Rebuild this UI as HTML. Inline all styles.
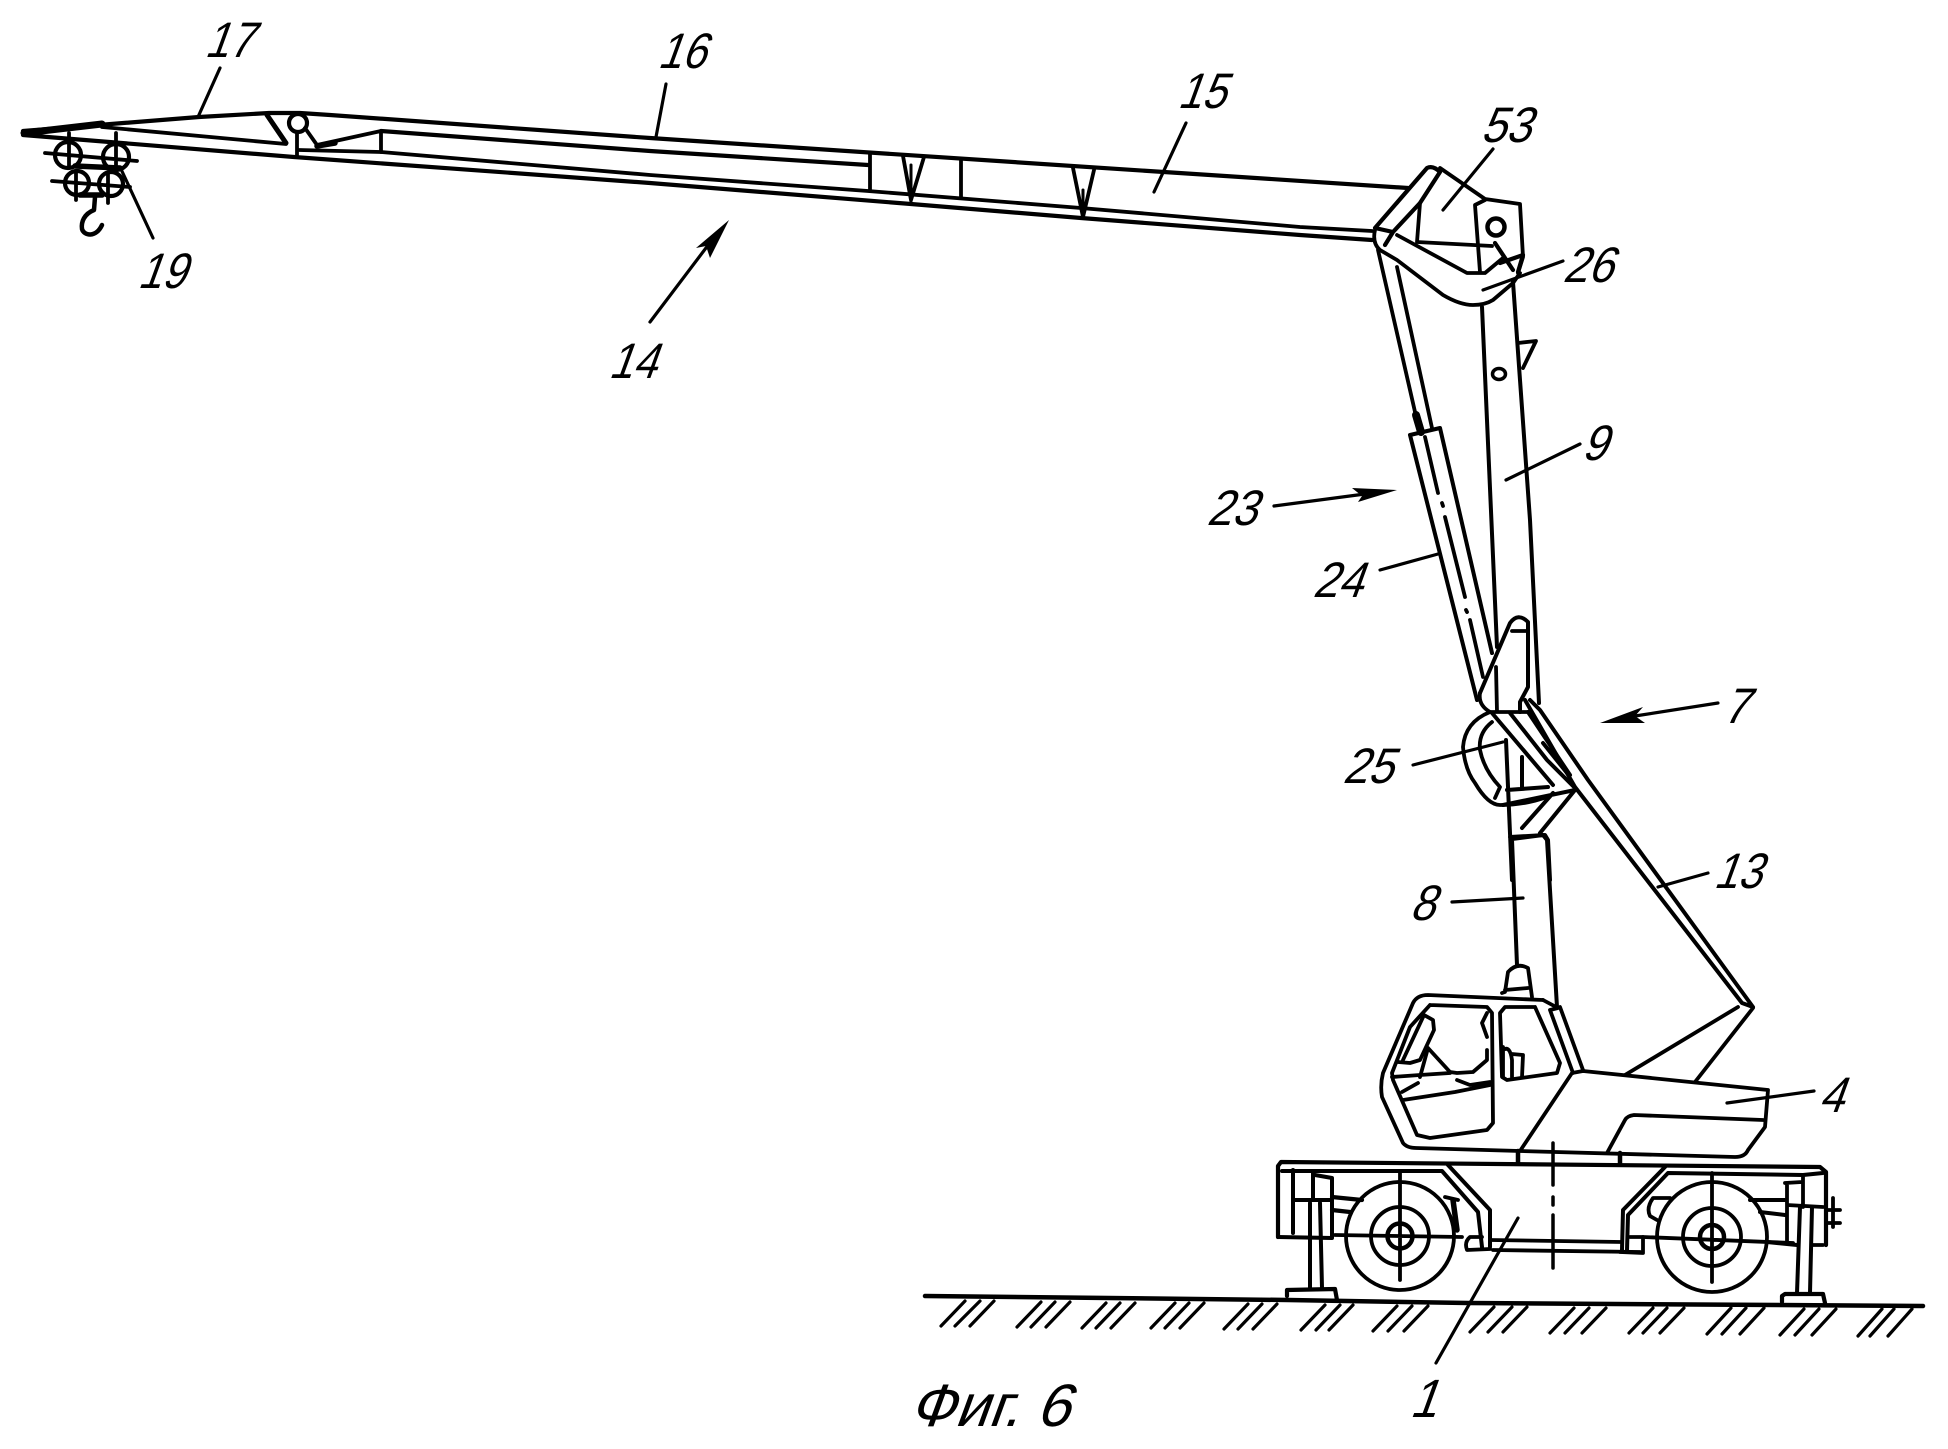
<!DOCTYPE html>
<html><head><meta charset="utf-8"><style>
html,body{margin:0;padding:0;background:#fff}
svg{display:block}
text{font-family:"Liberation Sans",sans-serif;fill:#000;font-size:50px}
</style></head><body>
<svg width="1948" height="1449" viewBox="0 0 1948 1449" xmlns="http://www.w3.org/2000/svg">
<g fill="none" stroke="#000" stroke-width="3.8" stroke-linecap="round" stroke-linejoin="round">
<!-- boom -->
<path d="M23 131L199 117L269 113L300 113L330 115L650 138L1164 172L1408 188" stroke-width="4.2"/>
<path d="M381 131L650 151L868 165" stroke-width="4.2"/>
<path d="M102 127L286 144M299 150L381 152L650 175L868 191L1081 208L1300 227L1372 231"/>
<path d="M23 135L294 157L650 183L911 204L1081 218L1300 235L1372 240" stroke-width="4.2"/>
<path d="M24 133L102 124" stroke-width="7"/>
<path d="M267 115L286 143" stroke-width="5"/>
<circle cx="298" cy="123" r="9" stroke-width="4.2"/>
<path d="M297 133V155M305 128L317 145M317 145L381 131V152"/>
<path d="M317 146L335 143" stroke-width="5.5"/>
<path d="M870 153V190M903 156L911 200L924 157M961 160V198M1073 168L1083 217L1094 170"/>
<path d="M911 165V202M1083 190V218" stroke-width="3"/>
<!-- hook block -->
<circle cx="68" cy="155" r="13" stroke-width="4.2"/>
<circle cx="116" cy="157" r="13" stroke-width="4.2"/>
<circle cx="77" cy="183" r="12" stroke-width="4.2"/>
<circle cx="111" cy="184" r="12" stroke-width="4.2"/>
<path d="M45 153L137 161M52 181L130 187M69 133V168M116 133V168M76 172V200M108 172V203"/>
<path d="M75 166L120 168M80 195L102 195" stroke-width="5.5"/>
<path d="M95 197L94 210C84 214 81 222 82 229C84 236 96 238 102 225" stroke-width="4.5"/>
<!-- head -->
<path d="M1393 232L1375 228L1427 168Q1433 165 1440 172L1420 203L1393 232L1385 245" stroke-width="4.2"/>
<path d="M1440 168L1485 199L1520 204L1523 257L1518 273"/>
<path d="M1485 200L1475 205L1480 272M1420 203L1417 242L1492 246"/>
<path d="M1375 230Q1372 243 1380 250L1397 260L1443 295Q1460 305 1473 305Q1485 305 1493 300L1513 283L1520 273"/>
<path d="M1397 235L1467 273L1485 273L1497 263L1503 258"/>
<circle cx="1496" cy="227" r="8.5" stroke-width="4.5"/>
<path d="M1495 243L1513 270M1500 263L1523 255L1518 272" stroke-width="4.2"/>
<!-- mast 9 -->
<path d="M1482 307L1497 647M1513 282L1530 520L1539 703" stroke-width="4"/>
<path d="M1518 343L1536 341L1523 368"/>
<ellipse cx="1499" cy="374" rx="6.5" ry="5.5" stroke-width="3.5"/>
<!-- cylinder -->
<path d="M1378 250L1418 425M1397 267L1432 428"/>
<path d="M1416 415L1421 432" stroke-width="8"/>
<path d="M1410 435L1440 428M1410 435L1477 700M1440 428L1492 653" stroke-width="4"/>
<path d="M1425 437L1438 493M1442 503L1443 506M1445 517L1465 597M1466 610L1467 612M1470 620L1483 677"/>
<!-- bracket -->
<path d="M1480 693L1510 623Q1518 612 1528 622L1528 687L1520 702L1520 712" stroke-width="4"/>
<path d="M1512 631H1527M1496 667L1497 712M1480 693Q1478 705 1490 712L1530 712"/>
<!-- stay 13 -->
<path d="M1530 700L1540 710L1588 780L1753 1007L1742 1003L1575 787L1525 700" stroke-width="4"/>
<path d="M1738 1007L1625 1075M1753 1008L1695 1082"/>
<!-- ring 25 -->
<path d="M1490 712Q1465 722 1463 747Q1465 770 1475 783Q1488 805 1500 805Q1525 805 1547 797"/>
<path d="M1492 722Q1478 733 1480 750Q1484 770 1500 787L1495 798"/>
<path d="M1492 713L1553 785M1510 713L1547 760L1577 790M1528 712L1570 775M1543 743L1567 773" stroke-width="4"/>
<path d="M1507 790L1548 787M1522 757V787M1506 740L1512 880M1510 837L1545 835L1548 840L1550 880" stroke-width="4"/>
<path d="M1522 828L1553 793M1540 833L1575 790M1503 805L1575 790" stroke-width="4"/>
<!-- column 8 -->
<path d="M1512 840L1517 965M1512 839L1543 835L1547 840L1557 1007" stroke-width="4"/>
<path d="M1502 993L1505 992L1508 972Q1517 962 1528 968L1532 997M1505 990L1528 988"/>
<!-- cab -->
<path d="M1543 1000L1428 995Q1417 995 1413 1003L1383 1073Q1380 1085 1382 1097L1403 1143Q1407 1148 1416 1148L1520 1151L1572 1073L1583 1071L1768 1090L1765 1127L1748 1150Q1745 1157 1735 1157L1520 1151"/>
<path d="M1560 1007L1583 1070M1550 1010L1573 1073M1543 1000L1558 1008L1550 1010"/>
<path d="M1535 1007L1560 1063L1557 1073L1507 1080L1502 1077L1500 1013L1505 1007H1535"/>
<path d="M1430 1005L1487 1007L1492 1013L1493 1123L1487 1130L1430 1138L1417 1135L1393 1080L1392 1073L1410 1027L1430 1005"/>
<path d="M1403 1060L1424 1015L1433 1020L1434 1030L1420 1060L1410 1063L1398 1062"/>
<path d="M1428 1048L1420 1077M1428 1048L1450 1072L1457 1073L1473 1072L1487 1060L1487 1050M1487 1013L1482 1023L1487 1037"/>
<path d="M1392 1077L1420 1075L1450 1073M1403 1100L1455 1092L1490 1085M1402 1092L1418 1083M1457 1080L1470 1085L1490 1082"/>
<path d="M1503 1047V1077M1503 1050Q1510 1045 1512 1060V1077M1512 1054L1523 1055L1522 1077"/>
<path d="M1607 1153L1625 1120Q1627 1116 1634 1115L1763 1120"/>
<path d="M1518 1151V1162M1620 1153V1163" stroke-width="4.5"/>
<path d="M1553 1143V1185M1553 1197V1205M1553 1215V1268" stroke-width="3.5"/>
<!-- chassis -->
<path d="M1278 1237V1166L1281 1162L1820 1167L1826 1172V1245" stroke-width="4.2"/>
<path d="M1282 1171H1442L1478 1212L1482 1247M1448 1165L1490 1210V1247" stroke-width="4"/>
<path d="M1278 1237L1332 1238V1178L1315 1175M1293 1170V1233M1313 1173V1200M1295 1200H1332" stroke-width="4"/>
<path d="M1310 1203L1310 1288M1320 1203L1322 1288" stroke-width="4"/>
<path d="M1287 1290L1335 1289L1337 1300M1287 1290V1296" stroke-width="4.2"/>
<path d="M1332 1197L1362 1200M1332 1210L1350 1212" stroke-width="4.2"/>
<circle cx="1400" cy="1236" r="54"/><circle cx="1400" cy="1236" r="29"/><circle cx="1400" cy="1236" r="12.5" stroke-width="4.5"/>
<path d="M1335 1235L1462 1237M1400 1172V1280M1445 1197L1458 1200"/>
<path d="M1453 1200L1457 1230" stroke-width="5.5"/>
<path d="M1482 1237H1470Q1464 1242 1467 1250L1490 1249M1490 1240L1622 1242M1493 1250L1640 1252"/>
<path d="M1622 1250L1623 1210L1665 1167M1627 1250L1628 1215L1668 1173L1803 1175L1823 1173" stroke-width="4"/>
<path d="M1630 1237H1643V1253L1620 1252"/>
<path d="M1670 1198L1653 1198Q1646 1208 1650 1216L1657 1220"/>
<circle cx="1712" cy="1237" r="55"/><circle cx="1712" cy="1237" r="29"/><circle cx="1712" cy="1237" r="12" stroke-width="4.5"/>
<path d="M1643 1237L1793 1243M1712 1173V1282"/>
<path d="M1787 1183V1243M1785 1183L1802 1182M1803 1177V1207M1787 1205L1823 1207M1823 1245H1812"/>
<path d="M1800 1207L1797 1293M1812 1207L1810 1293" stroke-width="4"/>
<path d="M1782 1302V1296L1785 1294H1823L1825 1303" stroke-width="4.2"/>
<path d="M1750 1200L1785 1200M1760 1212L1785 1215M1767 1242L1797 1245" stroke-width="4"/>
<path d="M1833 1198V1227M1827 1210H1840M1827 1223H1840"/>
<!-- ground -->
<path d="M925 1296L1288 1300L1468 1303L1923 1306" stroke-width="4.5"/>
<g stroke-width="3.2" transform="translate(0,3)">
<path d="M965 1298L941 1323M980 1298L955 1323M994 1298L970 1323"/>
<path d="M1041 1299L1017 1324M1055 1299L1031 1324M1070 1299L1046 1324"/>
<path d="M1106 1300L1082 1325M1120 1300L1096 1325M1135 1300L1111 1325"/>
<path d="M1175 1300L1151 1325M1189 1300L1165 1325M1204 1300L1180 1325"/>
<path d="M1248 1301L1224 1326M1262 1301L1238 1326M1277 1301L1253 1326"/>
<path d="M1325 1302L1301 1327M1340 1302L1316 1327M1353 1302L1329 1327"/>
<path d="M1397 1303L1373 1328M1412 1303L1388 1328M1428 1303L1404 1328"/>
<path d="M1494 1304L1470 1329M1512 1304L1488 1329M1527 1304L1503 1329"/>
<path d="M1574 1305L1550 1330M1589 1305L1565 1330M1606 1305L1582 1330"/>
<path d="M1653 1305L1629 1330M1667 1305L1643 1330M1684 1305L1660 1330"/>
<path d="M1731 1305L1707 1331M1746 1305L1722 1331M1764 1305L1740 1331"/>
<path d="M1804 1306L1780 1332M1819 1306L1795 1332M1836 1306L1812 1332"/>
<path d="M1882 1306L1858 1333M1894 1306L1870 1333M1912 1306L1888 1333"/>
</g>
<!-- leaders -->
<g stroke-width="3.2">
<path d="M220 68L198 117M120 167L153 238M666 84L656 137M1186 123L1154 192"/>
<path d="M650 322L712 240M1493 149L1443 210M1563 261L1483 290M1580 444L1506 480"/>
<path d="M1274 506L1365 494M1380 570L1438 554M1413 765L1503 742M1718 703L1635 716"/>
<path d="M1708 873L1658 887M1452 902L1523 898M1814 1091L1727 1103M1518 1218L1436 1363"/>
</g>
</g>
<!-- arrowheads -->
<polygon points="729,220 696,248 706,246 710,258"/>
<polygon points="1397,490 1352,488 1362,496 1358,502"/>
<polygon points="1600,723 1643,707 1635,716 1645,723"/>
<!-- labels -->
<text transform="translate(204,57) skewX(-20) scale(.86,1)">17</text>
<text transform="translate(137,288) skewX(-20) scale(.86,1)">19</text>
<text transform="translate(657,68) skewX(-20) scale(.86,1)">16</text>
<text transform="translate(1177,108) skewX(-20) scale(.86,1)">15</text>
<text transform="translate(608,378) skewX(-20) scale(.86,1)">14</text>
<text transform="translate(1480,142) skewX(-20) scale(.9,1)">53</text>
<text transform="translate(1562,282) skewX(-20) scale(.9,1)">26</text>
<text transform="translate(1581,460) skewX(-20) scale(.9,1)">9</text>
<text transform="translate(1206,525) skewX(-20) scale(.9,1)">23</text>
<text transform="translate(1312,597) skewX(-20) scale(.9,1)">24</text>
<text transform="translate(1342,783) skewX(-20) scale(.9,1)">25</text>
<text transform="translate(1722,723) skewX(-20) scale(.9,1)">7</text>
<text transform="translate(1713,888) skewX(-20) scale(.86,1)">13</text>
<text transform="translate(1409,920) skewX(-20) scale(.9,1)">8</text>
<text transform="translate(1818,1112) skewX(-20) scale(.9,1)">4</text>
<text transform="translate(1409,1417) skewX(-20) scale(.9,1)" style="font-size:54px">1</text>
<text transform="translate(908,1426) skewX(-20)" style="font-size:60px">Фиг. 6</text>
</svg>
</body></html>
